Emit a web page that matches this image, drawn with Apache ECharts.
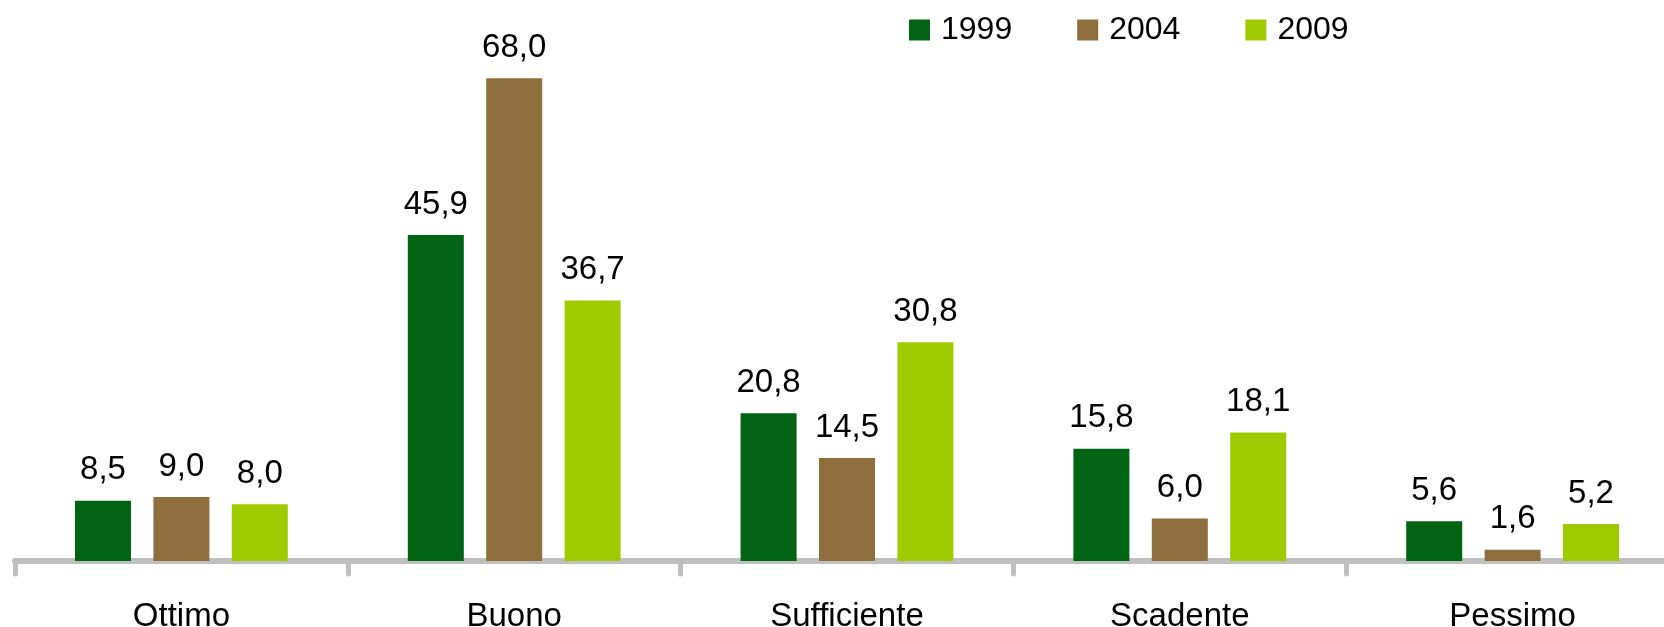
<!DOCTYPE html>
<html>
<head>
<meta charset="utf-8">
<script src="https://cdn.jsdelivr.net/npm/echarts@6/dist/echarts.min.js"></script>
<style>
html,body{margin:0;padding:0;background:#fff;}
#chart{width:1664px;height:627px;}
</style>
</head>
<body>
<div id="chart"></div>
<script>
const categories = ['Ottimo', 'Buono', 'Sufficiente', 'Scadente', 'Pessimo'];
const seriesNames = ['1999', '2004', '2009'];
const values1999 = [8.5, 45.9, 20.8, 15.8, 5.6];
const values2004 = [9.0, 68.0, 14.5, 6.0, 1.6];
const values2009 = [8.0, 36.7, 30.8, 18.1, 5.2];
const colors = ['#006414', '#8E6E3C', '#9ECB00'];

const chart = echarts.init(document.getElementById('chart'), null, {renderer: 'canvas'});
const font = '"Liberation Sans", Arial, sans-serif';
const allValues = [values1999, values2004, values2009];

const option = {
  animation: false,
  backgroundColor: '#ffffff',
  legend: {
    data: seriesNames,
    left: 909,
    top: 14,
    padding: 0,
    icon: 'rect',
    itemWidth: 21,
    itemHeight: 21,
    itemGap: 65,
    textStyle: {fontFamily: font, fontSize: 32, color: '#000', padding: [0, 0, 0, 6]}
  },
  grid: {left: 15, width: 1664, top: 64, bottom: 66, containLabel: false, outerBoundsMode: 'none'},
  xAxis: {
    type: 'category',
    data: categories,
    axisLine: {show: true, lineStyle: {color: '#BFBFBF', width: 6, cap: 'round'}},
    axisTick: {show: true, length: 13, lineStyle: {color: '#BFBFBF', width: 5, cap: 'round'}},
    axisLabel: {fontFamily: font, fontSize: 33, color: '#000', margin: 39}
  },
  yAxis: {
    type: 'value',
    min: 0,
    max: 70,
    show: false,
    splitLine: {show: false}
  },
  series: seriesNames.map((name, i) => ({
    name: name,
    type: 'bar',
    data: allValues[i],
    barWidth: 56,
    barGap: '40%',
    itemStyle: {color: colors[i]},
    label: {
      show: true,
      position: 'top',
      distance: 14,
      fontFamily: font,
      fontSize: 33,
      color: '#000',
      formatter: p => p.value.toFixed(1).replace('.', ',')
    }
  }))
};
chart.setOption(option);
</script>
</body>
</html>
